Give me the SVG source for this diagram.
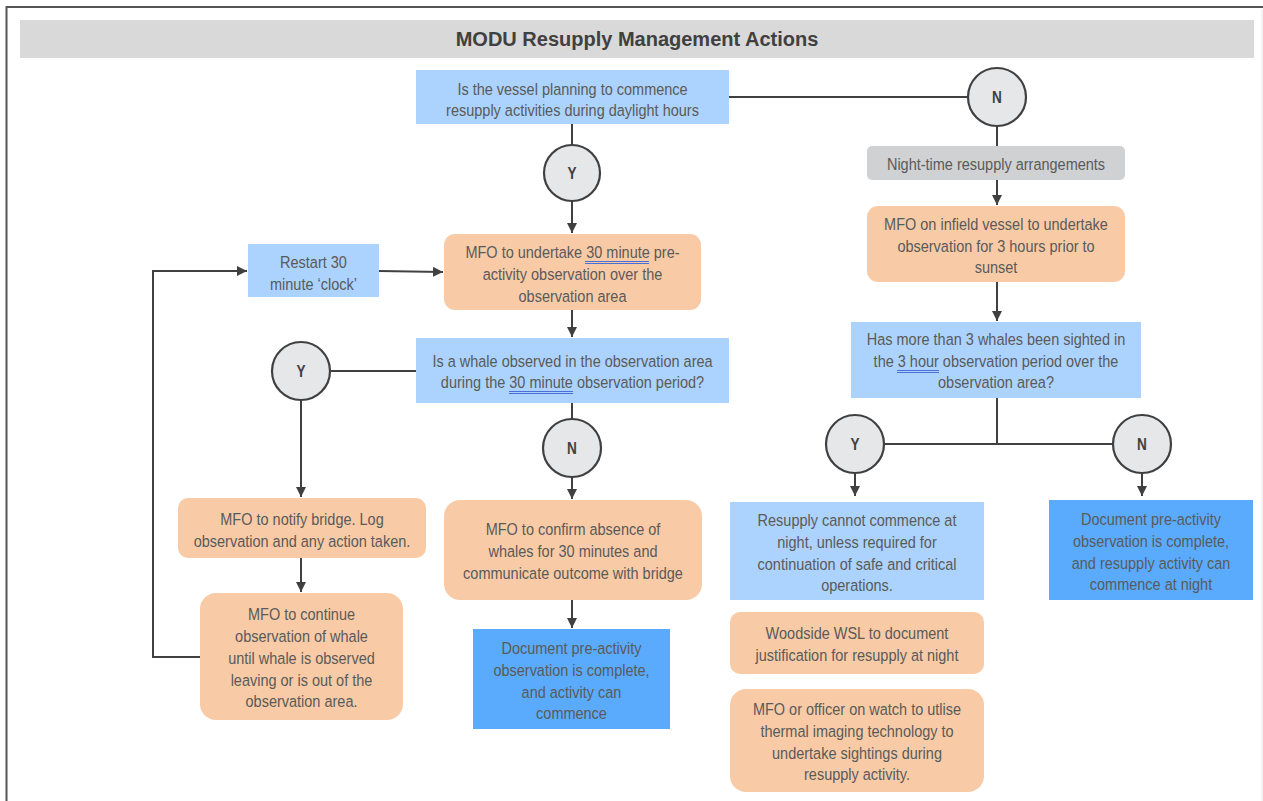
<svg xmlns="http://www.w3.org/2000/svg" width="1263" height="801" viewBox="0 0 1263 801">
  <style>
    .t { font-family: "Liberation Sans", Arial, sans-serif; font-size: 17px; fill: #5a5a5a; text-anchor: middle; }
    .title { font-family: "Liberation Sans", Arial, sans-serif; font-size: 20px; font-weight: bold; fill: #404040; text-anchor: middle; }
    .lbl { font-family: "Liberation Sans", Arial, sans-serif; font-size: 16px; font-weight: bold; fill: #404040; text-anchor: middle; }
    .q { fill: #acd3fd; }
    .act { fill: #f8cba6; }
    .doc { fill: #5aabfd; }
    .gray { fill: #d0d1d3; }
    .dec { fill: #e6e7e8; stroke: #404040; stroke-width: 2.2; }
    .ln { fill: none; stroke: #404040; stroke-width: 2; }
    .ul { stroke: #4a6fd8; stroke-width: 1; }
  </style>
  <defs>
    <marker id="arrow" viewBox="0 0 10 10" refX="10" refY="5" markerWidth="5" markerHeight="5" orient="auto" markerUnits="strokeWidth">
      <path d="M0,0 L10,5 L0,10 z" fill="#404040"/>
    </marker>
  </defs>

  <!-- page frame -->
  <rect x="0" y="0" width="1263" height="801" fill="#ffffff"/>
  <path d="M1262,10 V801" fill="none" stroke="#e6e6e6" stroke-width="1"/>
  <path d="M6.5,801 V7 H1263" fill="none" stroke="#555555" stroke-width="2"/>

  <!-- title band -->
  <g id="title">
    <rect x="20" y="20" width="1234" height="38" fill="#d9d9d9"/>
    <text class="title" x="637" y="46">MODU Resupply Management Actions</text>
  </g>

  <!-- connectors -->
  <g id="connectors">
    <path class="ln" d="M729,97 H968"/>
    <path class="ln" d="M572,124 V145"/>
    <path class="ln" d="M572,201 V233" marker-end="url(#arrow)"/>
    <path class="ln" d="M379,271 L443,272" marker-end="url(#arrow)"/>
    <path class="ln" d="M200,657 H153 V271 H247" marker-end="url(#arrow)"/>
    <path class="ln" d="M572,310 V337" marker-end="url(#arrow)"/>
    <path class="ln" d="M416,371 H330"/>
    <path class="ln" d="M301,400 V497" marker-end="url(#arrow)"/>
    <path class="ln" d="M301,558 V592" marker-end="url(#arrow)"/>
    <path class="ln" d="M572,403 V419"/>
    <path class="ln" d="M572,477 V499" marker-end="url(#arrow)"/>
    <path class="ln" d="M572,600 V628" marker-end="url(#arrow)"/>
    <path class="ln" d="M997,126 V146"/>
    <path class="ln" d="M997,180 V205" marker-end="url(#arrow)"/>
    <path class="ln" d="M997,282 V321" marker-end="url(#arrow)"/>
    <path class="ln" d="M997,398 V444"/>
    <path class="ln" d="M884,444 H1113"/>
    <path class="ln" d="M855,473 V496" marker-end="url(#arrow)"/>
    <path class="ln" d="M1142,473 V496" marker-end="url(#arrow)"/>
  </g>

  <!-- daylight question -->
  <g id="q-daylight">
    <rect class="q" x="416" y="70" width="313" height="54"/>
    <g transform="translate(572.5 0) scale(0.853 1)">
      <text class="t" x="0" y="95">Is the vessel planning to commence</text>
      <text class="t" x="0" y="116">resupply activities during daylight hours</text>
    </g>
  </g>

  <g id="n-daylight">
    <circle class="dec" cx="997" cy="97" r="29"/>
    <text class="lbl" x="0" y="103" transform="translate(997 0) scale(0.85 1)">N</text>
  </g>

  <g id="y-daylight">
    <circle class="dec" cx="572" cy="173" r="28"/>
    <text class="lbl" x="0" y="179" transform="translate(572 0) scale(0.85 1)">Y</text>
  </g>

  <g id="restart">
    <rect class="q" x="248" y="244" width="131" height="53"/>
    <g transform="translate(313.5 0) scale(0.853 1)">
      <text class="t" x="0" y="268">Restart 30</text>
      <text class="t" x="0" y="290">minute ‘clock’</text>
    </g>
  </g>

  <g id="pre-obs">
    <rect class="act" x="444" y="234" width="257" height="76" rx="11"/>
    <g transform="translate(572.5 0) scale(0.853 1)">
      <text class="t" x="0" y="258">MFO to undertake 30 minute pre-</text>
      <text class="t" x="0" y="280">activity observation over the</text>
      <text class="t" x="0" y="302">observation area</text>
    </g>
    <line class="ul" x1="585" y1="261.5" x2="649" y2="261.5"/>
    <line class="ul" x1="585" y1="263.5" x2="649" y2="263.5"/>
  </g>

  <g id="q-whale">
    <rect class="q" x="416" y="338" width="313" height="65"/>
    <g transform="translate(572.5 0) scale(0.853 1)">
      <text class="t" x="0" y="367">Is a whale observed in the observation area</text>
      <text class="t" x="0" y="388">during the 30 minute observation period?</text>
    </g>
    <line class="ul" x1="509" y1="391.5" x2="573" y2="391.5"/>
    <line class="ul" x1="509" y1="393.5" x2="573" y2="393.5"/>
  </g>

  <g id="y-whale">
    <circle class="dec" cx="301" cy="371" r="29"/>
    <text class="lbl" x="0" y="377" transform="translate(301 0) scale(0.85 1)">Y</text>
  </g>

  <g id="n-whale">
    <circle class="dec" cx="572" cy="448" r="29"/>
    <text class="lbl" x="0" y="454" transform="translate(572 0) scale(0.85 1)">N</text>
  </g>

  <g id="notify">
    <rect class="act" x="178" y="498" width="248" height="60" rx="10"/>
    <g transform="translate(302 0) scale(0.853 1)">
      <text class="t" x="0" y="525">MFO to notify bridge. Log</text>
      <text class="t" x="0" y="547">observation and any action taken.</text>
    </g>
  </g>

  <g id="continue-obs">
    <rect class="act" x="200" y="593" width="203" height="127" rx="16"/>
    <g transform="translate(301.5 0) scale(0.853 1)">
      <text class="t" x="0" y="620">MFO to continue</text>
      <text class="t" x="0" y="642">observation of whale</text>
      <text class="t" x="0" y="664">until whale is observed</text>
      <text class="t" x="0" y="686">leaving or is out of the</text>
      <text class="t" x="0" y="707">observation area.</text>
    </g>
  </g>

  <g id="confirm">
    <rect class="act" x="444" y="500" width="258" height="100" rx="16"/>
    <g transform="translate(573 0) scale(0.853 1)">
      <text class="t" x="0" y="535">MFO to confirm absence of</text>
      <text class="t" x="0" y="557">whales for 30 minutes and</text>
      <text class="t" x="0" y="579">communicate outcome with bridge</text>
    </g>
  </g>

  <g id="doc-day">
    <rect class="doc" x="473" y="629" width="197" height="100"/>
    <g transform="translate(571.5 0) scale(0.853 1)">
      <text class="t" x="0" y="654">Document pre-activity</text>
      <text class="t" x="0" y="676">observation is complete,</text>
      <text class="t" x="0" y="698">and activity can</text>
      <text class="t" x="0" y="719">commence</text>
    </g>
  </g>

  <g id="night">
    <rect class="gray" x="867" y="146" width="258" height="34" rx="5"/>
    <g transform="translate(996 0) scale(0.853 1)">
      <text class="t" x="0" y="170">Night-time resupply arrangements</text>
    </g>
  </g>

  <g id="infield-obs">
    <rect class="act" x="867" y="206" width="258" height="76" rx="11"/>
    <g transform="translate(996 0) scale(0.853 1)">
      <text class="t" x="0" y="230">MFO on infield vessel to undertake</text>
      <text class="t" x="0" y="252">observation for 3 hours prior to</text>
      <text class="t" x="0" y="273">sunset</text>
    </g>
  </g>

  <g id="q-three">
    <rect class="q" x="851" y="322" width="290" height="76"/>
    <g transform="translate(996 0) scale(0.853 1)">
      <text class="t" x="0" y="345">Has more than 3 whales been sighted in</text>
      <text class="t" x="0" y="367">the 3 hour observation period over the</text>
      <text class="t" x="0" y="388">observation area?</text>
    </g>
    <line class="ul" x1="897" y1="370.5" x2="939" y2="370.5"/>
    <line class="ul" x1="897" y1="372.5" x2="939" y2="372.5"/>
  </g>

  <g id="y-three">
    <circle class="dec" cx="855" cy="444" r="29"/>
    <text class="lbl" x="0" y="450" transform="translate(855 0) scale(0.85 1)">Y</text>
  </g>

  <g id="n-three">
    <circle class="dec" cx="1142" cy="444" r="29"/>
    <text class="lbl" x="0" y="450" transform="translate(1142 0) scale(0.85 1)">N</text>
  </g>

  <g id="no-night">
    <rect class="q" x="730" y="502" width="254" height="98"/>
    <g transform="translate(857 0) scale(0.853 1)">
      <text class="t" x="0" y="526">Resupply cannot commence at</text>
      <text class="t" x="0" y="548">night, unless required for</text>
      <text class="t" x="0" y="570">continuation of safe and critical</text>
      <text class="t" x="0" y="591">operations.</text>
    </g>
  </g>

  <g id="doc-night">
    <rect class="doc" x="1049" y="500" width="204" height="100"/>
    <g transform="translate(1151 0) scale(0.853 1)">
      <text class="t" x="0" y="525">Document pre-activity</text>
      <text class="t" x="0" y="547">observation is complete,</text>
      <text class="t" x="0" y="569">and resupply activity can</text>
      <text class="t" x="0" y="590">commence at night</text>
    </g>
  </g>

  <g id="wsl">
    <rect class="act" x="730" y="612" width="254" height="62" rx="10"/>
    <g transform="translate(857 0) scale(0.853 1)">
      <text class="t" x="0" y="639">Woodside WSL to document</text>
      <text class="t" x="0" y="661">justification for resupply at night</text>
    </g>
  </g>

  <g id="thermal">
    <rect class="act" x="730" y="689" width="254" height="103" rx="16"/>
    <g transform="translate(857 0) scale(0.853 1)">
      <text class="t" x="0" y="715">MFO or officer on watch to utlise</text>
      <text class="t" x="0" y="737">thermal imaging technology to</text>
      <text class="t" x="0" y="759">undertake sightings during</text>
      <text class="t" x="0" y="780">resupply activity.</text>
    </g>
  </g>
</svg>
